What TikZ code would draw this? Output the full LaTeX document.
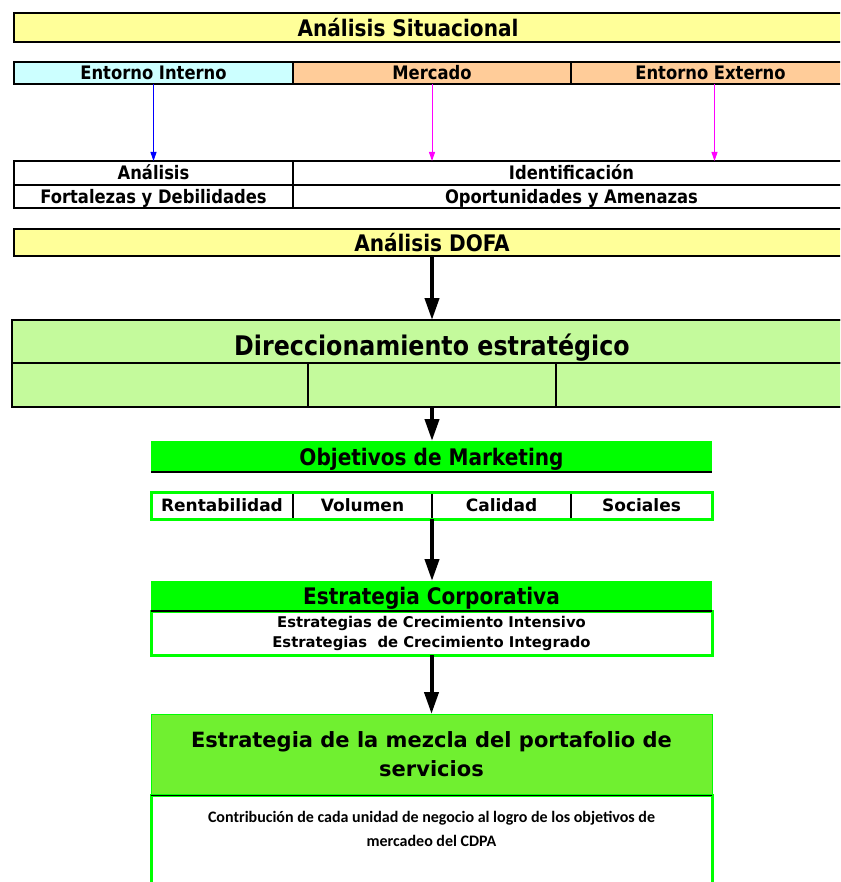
\documentclass[tikz,border=0pt]{standalone}
\usepackage{fontspec}
\newfontfamily\narrowsf{DejaVu Sans}[FakeStretch=0.88]
\newfontfamily\widesf{DejaVu Sans}
\newfontfamily\calib{Carlito}
\usetikzlibrary{arrows.meta,positioning}
\definecolor{amarillo}{HTML}{FFFF99}
\definecolor{celeste}{HTML}{CCFFFF}
\definecolor{naranja}{HTML}{FFCC99}
\definecolor{verdeclaro}{HTML}{C4FA9C}
\definecolor{verde}{HTML}{00FF00}
\definecolor{verdemedio}{HTML}{70F030}
\definecolor{magenta}{HTML}{FF00FF}

\begin{document}
\begin{tikzpicture}[x=0.5pt, y=-0.5pt,
		caja/.style={draw, line width=1pt, anchor=north west, inner sep=0pt, outer sep=0pt, font=\narrowsf\bfseries},
		titulo/.style={caja, fill=amarillo, minimum height=14.5pt, font=\narrowsf\bfseries\fontsize{11.4}{13}\selectfont},
		fila/.style={caja, minimum height=11pt, text height=8pt, text depth=1.2pt, font=\narrowsf\bfseries\fontsize{9.3}{11}\selectfont},
		banda/.style={anchor=north west, inner sep=0pt, outer sep=0pt, minimum width=280.5pt},
		meta/.style={anchor=north west, inner sep=0pt, outer sep=0pt, minimum height=13.5pt, font=\widesf\bfseries\fontsize{8.5}{10}\selectfont},
		flechita/.style={-{Triangle[width=3pt,length=4.5pt]}, line width=0.5pt},
		flecha/.style={-{Triangle[width=7pt,length=11pt]}, line width=2pt}]
	\clip (0,0) rectangle (840,882);
	
	% analisis situacional
	\node[titulo, minimum width=418pt] (sit) at (14,13) {};
	\node[font=\narrowsf\bfseries\fontsize{11.4}{13}\selectfont, inner sep=0pt] (sittxt) at (408,28) {Análisis Situacional};
	
	\node[fila, fill=celeste, minimum width=139.5pt] (interno) at (14,62) {Entorno Interno};
	\node[fila, fill=naranja, minimum width=139pt] (mercado) at (293,62) {Mercado};
	\node[fila, fill=naranja, minimum width=139.5pt] (externo) at (571,62) {Entorno Externo};
	
	\node[fila, minimum width=139.5pt, minimum height=12pt] (analisis) at (14,161) {Análisis};
	\node[fila, minimum width=139.5pt, minimum height=11.5pt] (fortalezas) at (14,185) {Fortalezas y Debilidades};
	\node[fila, minimum width=278.5pt, minimum height=12pt] (identif) at (293,161) {Identificación};
	\node[fila, minimum width=278.5pt, minimum height=11.5pt] (oportun) at (293,185) {Oportunidades y Amenazas};
	
	\draw[flechita, blue] (interno.south) -- (analisis.north);
	\draw[flechita, magenta] (mercado.south) -- (mercado.south |- identif.north);
	\draw[flechita, magenta] ([xshift=2pt]externo.south) -- ([xshift=2pt]externo.south |- identif.north);
	
	% DOFA y direccionamiento
	\node[titulo, minimum width=418pt, minimum height=13.5pt] (dofa) at (14,229) {Análisis DOFA};
	
	\node[caja, fill=verdeclaro, minimum width=419pt, minimum height=21.5pt] (direc) at (12,320) {};
	\node[font=\narrowsf\bfseries\fontsize{13.5}{15}\selectfont, inner sep=0pt] (directxt) at (432,348) {Direccionamiento estratégico};
	\node[caja, fill=verdeclaro, line width=0.6pt, minimum width=148pt, minimum height=22pt] (direcA) at (12,363) {};
	\node[caja, fill=verdeclaro, line width=0.6pt, minimum width=124pt, minimum height=22pt] (direcB) at (308,363) {};
	\node[caja, fill=verdeclaro, line width=0.6pt, minimum width=147pt, minimum height=22pt] (direcC) at (556,363) {};
	\draw[line width=1pt] (direcA.north west) -- (direcC.north east);
	\draw[line width=1pt] (direc.north west) rectangle (direcC.south east);
	
	\draw[flecha] (dofa.south) -- (dofa.south |- direc.north);
	
	% objetivos de marketing
	\node[banda, fill=verde, minimum height=15.5pt, text depth=-3pt,
		font=\narrowsf\bfseries\fontsize{11.4}{13}\selectfont] (objetivos) at (151,441) {Objetivos de Marketing};
	\draw[line width=1pt] (objetivos.south west) -- (objetivos.south east);
	
	\node[meta, minimum width=71pt] (rent) at (151,492) {Rentabilidad};
	\node[meta, minimum width=69.5pt] (vol) at (293,492) {Volumen};
	\node[meta, minimum width=69.5pt] (cal) at (432,492) {Calidad};
	\node[meta, minimum width=70.5pt] (soc) at (571,492) {Sociales};
	\foreach \c in {rent,vol,cal}
		\draw[line width=0.75pt] (\c.north east) -- (\c.south east);
	\draw[verde, line width=1.5pt] (rent.north west) rectangle (soc.south east);
	
	\draw[flecha] (direcB.south) -- (direcB.south |- objetivos.north);
	
	% estrategia corporativa
	\node[banda, fill=verde, minimum height=15pt, text depth=-3pt,
		font=\narrowsf\bfseries\fontsize{11.4}{13}\selectfont] (corp) at (151,581) {Estrategia Corporativa};
	\node[banda, draw=verde, line width=1.5pt, minimum height=22pt, align=center,
		font=\widesf\bfseries\fontsize{7.4}{10}\selectfont] (corpb) at (151,611)
		{Estrategias de Crecimiento Intensivo\\Estrategias\ \ de Crecimiento Integrado};
	\draw[line width=1pt] (corp.south west) -- (corp.south east);
	
	\draw[flecha] (cal.south west) -- (cal.south west |- corp.north);
	
	% estrategia de la mezcla
	\node[banda, fill=verdemedio, draw=verde, line width=0.5pt, minimum height=40.5pt, align=center,
		font=\widesf\bfseries\fontsize{10.5}{14.5}\selectfont] (mezcla) at (151,714)
		{Estrategia de la mezcla del portafolio de\\servicios};
	\node[banda, draw=verde, line width=1.5pt, minimum height=60pt] (mezclab) at (151,795) {};
	\draw[line width=0.5pt] (mezcla.south west) -- (mezcla.south east);
	\node[below=8pt of mezclab.north, inner sep=0pt, align=center,
		font=\calib\bfseries\fontsize{8}{12}\selectfont] (contrib)
		{Contribución de cada unidad de negocio al logro de los objetivos de\\mercadeo del CDPA};
	
	\draw[flecha] (corpb.south) -- (mezcla.north);
\end{tikzpicture}
\end{document}
